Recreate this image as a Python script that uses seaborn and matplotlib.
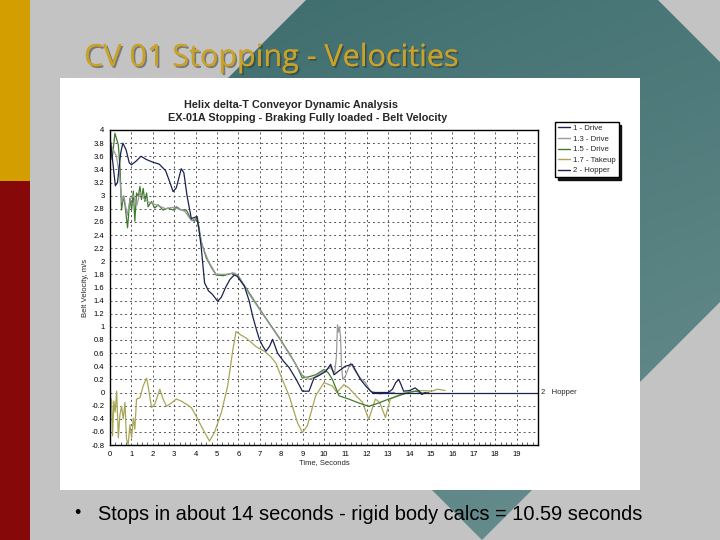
import numpy as np
import pandas as pd
import matplotlib
matplotlib.use("Agg")
import matplotlib.pyplot as plt
import seaborn as sns
from matplotlib.patches import Polygon, Rectangle
from matplotlib.lines import Line2D
from matplotlib.colors import LinearSegmentedColormap
import matplotlib.patheffects as pe
from matplotlib.ticker import MultipleLocator, FuncFormatter

sns.set_theme(style="white")
plt.rcParams['font.family'] = ['Liberation Sans', 'DejaVu Sans']

# ---------------- data (time s, belt velocity m/s) ----------------
series_names = ["1 - Drive", "1.3 - Drive", "1.5 - Drive", "1.7 - Takeup", "2 - Hopper"]
series_colors = ["#1b2150", "#9a9a9a", "#3f7a2e", "#a9a656", "#1b2150"]

drive1_t = [0, 0.1, 0.25, 0.35, 0.5, 0.6, 0.75, 0.9, 1.0, 1.2, 1.45, 1.7, 2.0, 2.3, 2.6, 2.8,
            2.95, 3.1, 3.33, 3.45, 3.6, 3.8, 4.05, 4.15, 4.26, 4.42, 4.6, 4.8, 5.03, 5.2, 5.4,
            5.6, 5.8, 5.95, 6.1, 6.28, 6.5, 6.67, 6.85, 6.98, 7.15, 7.29, 7.45, 7.6, 7.83, 8.1,
            8.37, 8.7, 8.99, 9.3, 9.53, 9.77, 10.08, 10.31, 10.47, 10.7, 11.0, 11.32, 11.7,
            12.0, 12.25, 13.0, 13.2, 13.35, 13.49, 13.6, 13.72, 14.0, 14.26, 14.45, 14.57, 14.75]
drive1_v = [3.9, 3.6, 3.15, 3.2, 3.65, 3.8, 3.7, 3.5, 3.47, 3.52, 3.6, 3.55, 3.51, 3.48, 3.38,
            3.2, 3.06, 3.12, 3.41, 3.35, 3.0, 2.65, 2.68, 2.5, 2.22, 1.67, 1.55, 1.49, 1.39,
            1.45, 1.6, 1.72, 1.79, 1.77, 1.7, 1.62, 1.4, 1.16, 0.95, 0.81, 0.7, 0.63, 0.7, 0.81,
            0.6, 0.48, 0.38, 0.2, 0.02, 0.02, 0.22, 0.26, 0.32, 0.43, 0.27, 0.33, 0.4, 0.43,
            0.2, 0.08, 0.0, 0.0, 0.05, 0.15, 0.2, 0.12, 0.02, 0.03, 0.07, 0.02, -0.03, 0.0]

drive13_t = [0, 0.15, 0.3, 0.45, 0.55, 0.65, 0.8, 0.95, 1.1, 1.25, 1.4, 1.6, 1.8, 2.0, 2.3,
             2.6, 2.9, 3.2, 3.5, 3.8, 4.05, 4.3, 4.6, 4.96, 5.4, 5.8, 6.0, 6.5, 7.0, 7.5, 8.0,
             8.5, 9.0, 9.3, 9.6, 10.0, 10.3, 10.5, 10.58, 10.63, 10.67, 10.72, 10.77, 10.82,
             10.88, 11.0, 11.24, 11.47, 11.7, 11.94, 12.17, 12.6, 13.0, 13.3]
drive13_v = [3.8, 3.7, 3.6, 3.3, 2.9, 3.0, 2.7, 2.95, 3.0, 2.85, 3.05, 2.95, 2.9, 2.88, 2.84,
             2.8, 2.82, 2.8, 2.76, 2.62, 2.66, 2.25, 2.0, 1.8, 1.8, 1.82, 1.78, 1.5, 1.26, 1.02,
             0.78, 0.52, 0.26, 0.2, 0.24, 0.33, 0.38, 0.3, 0.55, 1.03, 0.92, 1.0, 0.86, 0.4,
             0.2, 0.25, 0.45, 0.32, 0.22, 0.15, 0.02, -0.02, 0.0, 0.0]

drive15_t = [0, 0.1, 0.23, 0.32, 0.39, 0.47, 0.54, 0.62, 0.7, 0.82, 0.93, 1.01, 1.09, 1.16,
             1.24, 1.32, 1.4, 1.47, 1.55, 1.63, 1.71, 1.78, 1.94, 2.09, 2.25, 2.48, 2.71, 2.95,
             3.1, 3.33, 3.57, 3.8, 3.95, 4.08, 4.26, 4.5, 4.75, 4.96, 5.3, 5.73, 5.96, 6.5, 7.0,
             7.5, 7.9, 8.37, 8.7, 8.99, 9.3, 9.61, 10.0, 10.2, 10.39, 10.7, 11.16, 11.63, 12.09,
             12.56, 13.02, 13.49, 13.95, 14.3, 14.6, 14.9]
drive15_v = [3.75, 3.55, 3.95, 3.85, 3.77, 3.42, 2.78, 2.99, 2.86, 2.51, 2.96, 2.78, 3.07, 2.61,
             3.04, 2.99, 3.14, 2.94, 3.11, 2.91, 3.04, 2.83, 2.91, 2.81, 2.86, 2.78, 2.81, 2.78,
             2.83, 2.78, 2.78, 2.63, 2.61, 2.68, 2.3, 2.05, 1.9, 1.79, 1.78, 1.82, 1.79, 1.52,
             1.27, 1.03, 0.84, 0.6, 0.42, 0.22, 0.24, 0.27, 0.35, 0.3, 0.2, -0.05, -0.1, -0.16,
             -0.21, -0.16, -0.1, -0.05, 0.0, 0.02, -0.01, 0.0]

takeup_t = [0.0, 0.08, 0.12, 0.18, 0.24, 0.31, 0.39, 0.46, 0.54, 0.62, 0.7, 0.77, 0.85, 0.93,
            1.01, 1.09, 1.16, 1.24, 1.4, 1.55, 1.71, 1.78, 1.94, 2.09, 2.33, 2.48, 2.64, 2.87,
            3.1, 3.33, 3.57, 3.8, 4.03, 4.34, 4.65, 4.88, 5.2, 5.5, 5.74, 5.89, 6.1, 6.36, 6.82,
            7.21, 7.5, 7.75, 8.05, 8.37, 8.76, 8.99, 9.22, 9.61, 10.0, 10.39, 10.6, 10.93, 11.16,
            11.5, 11.8, 12.09, 12.4, 12.6, 12.87, 13.1, 13.4, 13.8, 14.2, 14.6, 15.04, 15.3,
            15.5, 15.66]
takeup_v = [-0.05, -0.13, -0.66, -0.13, -0.3, 0.02, -0.69, -0.35, -0.21, -0.4, -0.15, -0.71,
            -0.79, -0.49, -0.69, -0.39, -0.56, -0.1, -0.08, 0.1, 0.22, 0.1, -0.23, -0.18, 0.05,
            -0.1, -0.21, -0.16, -0.1, -0.13, -0.18, -0.23, -0.36, -0.56, -0.74, -0.61, -0.31,
            0.1, 0.65, 0.93, 0.88, 0.83, 0.70, 0.63, 0.55, 0.45, 0.2, -0.05, -0.46, -0.61,
            -0.51, -0.05, 0.15, 0.1, 0.0, 0.12, 0.07, -0.05, -0.15, -0.41, -0.1, -0.15, -0.38,
            -0.1, -0.05, 0.0, 0.02, 0.03, 0.02, 0.05, 0.04, 0.03]

hopper_t = [12.25, 13.0, 14.0, 15.0, 16.0, 17.0, 18.0, 19.0, 20.0]
hopper_v = [0.0, 0.0, 0.0, 0.0, 0.0, 0.0, 0.0, 0.0, 0.0]

x_ticks = list(range(0, 20))
y_ticks = [round(-0.8 + 0.2 * i, 1) for i in range(25)]

frames = []
for name, tt, vv in zip(series_names,
                        [drive1_t, drive13_t, drive15_t, takeup_t, hopper_t],
                        [drive1_v, drive13_v, drive15_v, takeup_v, hopper_v]):
    frames.append(pd.DataFrame({"t": tt, "v": vv, "series": name}))
df = pd.concat(frames, ignore_index=True)
draw_order = ["1.7 - Takeup", "1.5 - Drive", "1.3 - Drive", "2 - Hopper", "1 - Drive"]
palette = dict(zip(series_names, series_colors))

# ---------------- figure / slide background ----------------
fig = plt.figure(figsize=(7.2, 5.4), dpi=100)
bg = fig.add_axes([0, 0, 1, 1])
bg.set_xlim(0, 720)
bg.set_ylim(540, 0)
bg.axis('off')
bg.add_patch(Rectangle((0, 0), 720, 540, facecolor='#c3c3c3', edgecolor='none', zorder=0))
diamond = Polygon([(482, -176), (840, 182), (482, 540), (124, 182)], closed=True,
                  facecolor='none', edgecolor='none', zorder=1)
bg.add_patch(diamond)
X, Y = np.meshgrid(np.linspace(0, 1, 200), np.linspace(0, 1, 150))
G = 0.35 * X + 0.65 * Y
cmap = LinearSegmentedColormap.from_list('teal', ['#3a6a6b', '#6a8f8f'])
im = bg.imshow(G, cmap=cmap, extent=(0, 720, 540, 0), aspect='auto', zorder=1)
im.set_clip_path(diamond)
bg.set_xlim(0, 720)
bg.set_ylim(540, 0)
bg.add_patch(Rectangle((0, 0), 30, 181, facecolor='#d29e00', edgecolor='none', zorder=2))
bg.add_patch(Rectangle((0, 181), 30, 359, facecolor='#870808', edgecolor='none', zorder=2))
bg.text(84, 58, "CV 01 Stopping - Velocities", color='#c9a227', fontsize=22,
        family=['Open Sans', 'DejaVu Sans'], va='center', ha='left', zorder=3,
        path_effects=[pe.withSimplePatchShadow(offset=(1.3, -1.3), shadow_rgbFace='#303030', alpha=0.5),
                      pe.Normal()])
bg.add_patch(Rectangle((60, 78), 580, 412, facecolor='white', edgecolor='none', zorder=2))
bg.text(74, 514, "\u2022", fontsize=13, va='center', ha='left', color='black', zorder=3)
bg.text(98, 514, "Stops in about 14 seconds - rigid body calcs = 10.59 seconds",
        fontsize=14.4, va='center', ha='left', color='black', zorder=3)

# ---------------- chart ----------------
ax = fig.add_axes([110 / 720, 1 - 445 / 540, 428 / 720, 315 / 540])
ax.set_facecolor('white')
sns.lineplot(data=df, x="t", y="v", hue="series", hue_order=draw_order, palette=palette,
             sort=False, estimator=None, legend=False, linewidth=0.9, ax=ax)
ax.set_xlim(0, 20)
ax.set_ylim(-0.8, 4.0)
ax.set_xticks(x_ticks)
ax.set_yticks(y_ticks)
ax.yaxis.set_major_formatter(FuncFormatter(lambda v, p: f"{v:g}"))
ax.xaxis.set_minor_locator(MultipleLocator(0.25))
ax.tick_params(axis='both', which='major', labelsize=5.5, direction='inout', length=4,
               width=0.6, colors='black', pad=2)
ax.tick_params(axis='x', which='minor', direction='in', length=2, width=0.5, bottom=True)
ax.grid(True, which='major', color='#555555', linestyle=(0, (2, 3)), linewidth=0.7)
for s in ax.spines.values():
    s.set_color('black')
    s.set_linewidth(1.0)
ax.set_xlabel("Time, Seconds", fontsize=5.5, labelpad=1)
ax.set_ylabel("Belt Velocity, m/s", fontsize=5.5, labelpad=2)
ax.text(20.15, 0.0, "2   Hopper", fontsize=5.5, va='center', ha='left', clip_on=False)

fig.text(291 / 720, 1 - 105 / 540, "Helix delta-T Conveyor Dynamic Analysis", fontsize=7.8,
         weight='bold', ha='center', va='center')
fig.text(308 / 720, 1 - 118 / 540, "EX-01A Stopping - Braking Fully loaded - Belt Velocity",
         fontsize=7.8, weight='bold', ha='center', va='center')

handles = [Line2D([0], [0], color=c, lw=1.0) for c in series_colors]
fig.legend(handles, series_names, loc='upper left', bbox_to_anchor=(555 / 720, 1 - 122 / 540),
           fontsize=5.6, frameon=True, fancybox=False, edgecolor='black', framealpha=1,
           shadow={'color': 'black', 'alpha': 0.9}, handlelength=1.6, borderpad=0.35,
           labelspacing=0.4, handletextpad=0.4, borderaxespad=0)

fig.savefig("out.png", dpi=100)
